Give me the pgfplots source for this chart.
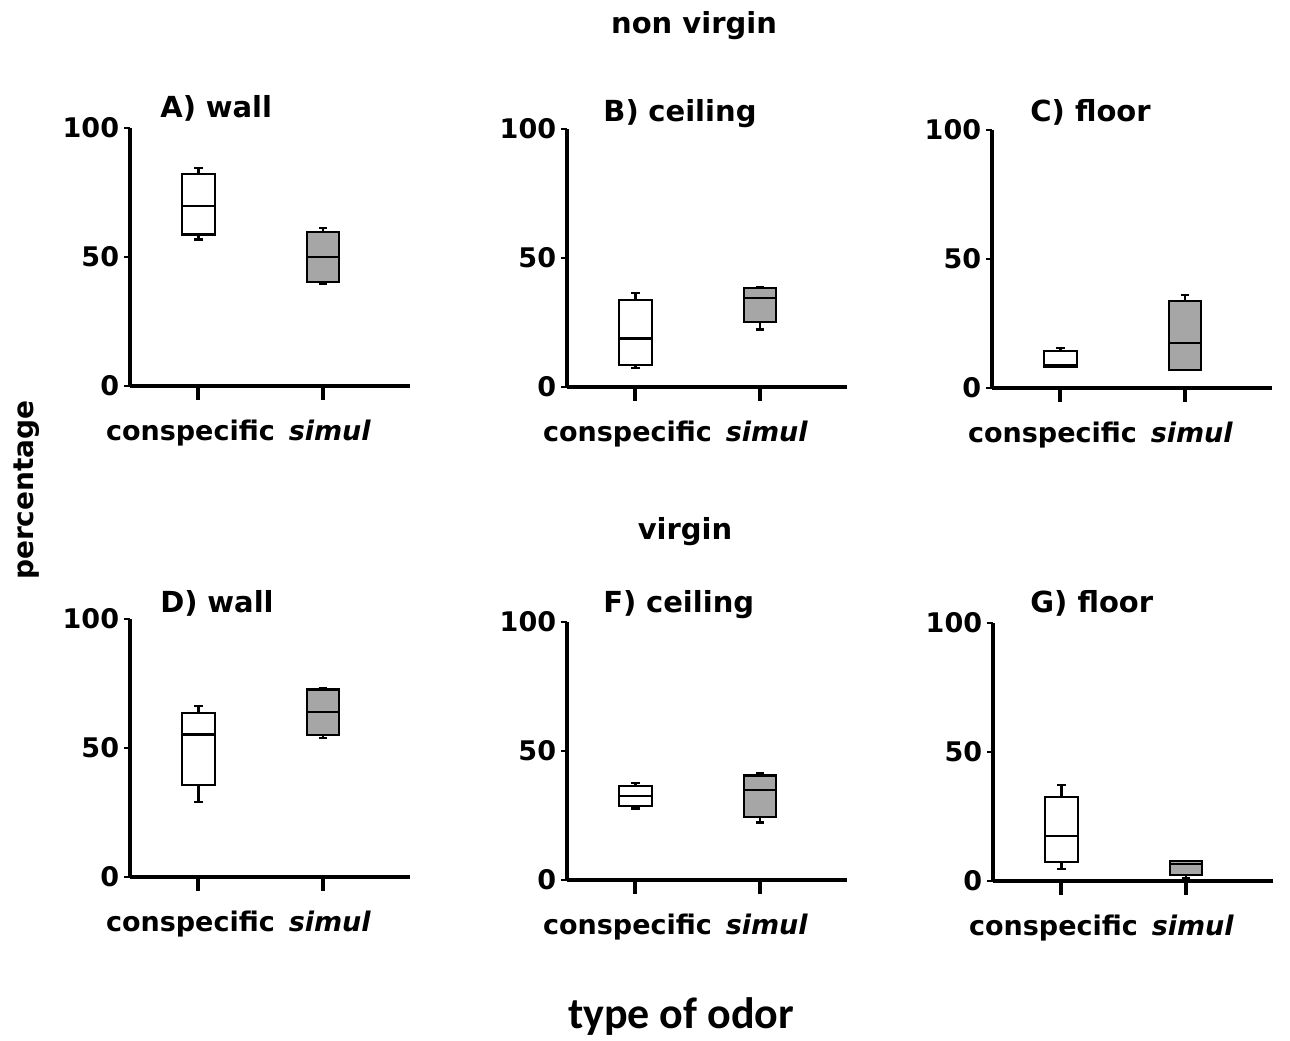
\documentclass[border=0pt]{standalone}
\usepackage{fontspec}
\setmainfont{DejaVu Sans}
\newfontfamily\calib{Carlito}
\usepackage{pgfplots}
\pgfplotsset{compat=1.18}
\definecolor{boxgray}{RGB}{166,166,166}
\pgfplotsset{
  panel/.style={
    width=140pt, height=129pt, scale only axis, anchor=south west,
    xmin=0.45, xmax=2.7, ymin=0, ymax=100,
    axis lines=left, axis line style={-, line width=1.6pt, black},
    xtick={1,2}, xticklabels={conspecific\hspace*{8pt},\hspace*{7pt}\textit{simul}},
    ytick={0,50,100}, yticklabels={0,50,100},
    tick align=outside,
    xtick style={/pgfplots/major tick length=7pt, line width=2pt, black},
    ytick style={/pgfplots/major tick length=3pt, line width=1pt, black},
    ticklabel style={font=\fontsize{13.5}{15}\selectfont\bfseries},
    yticklabel style={inner sep=1pt},
    xticklabel style={yshift=-9pt},
    clip=false,
  },
}
% #1 position, #2 fill, #3 lower whisker, #4 lower quartile, #5 median, #6 upper quartile, #7 upper whisker
\newcommand{\bx}[7]{%
  \pgfmathsetmacro{\xl}{#1-0.13}\pgfmathsetmacro{\xr}{#1+0.13}%
  \pgfmathsetmacro{\cl}{#1-0.035}\pgfmathsetmacro{\cr}{#1+0.035}%
  \addplot[draw=black, line width=1.1pt] coordinates {(#1,#3) (#1,#4)};
  \addplot[draw=black, line width=1.1pt] coordinates {(#1,#6) (#1,#7)};
  \addplot[draw=black, line width=1.1pt] coordinates {(\cl,#3) (\cr,#3)};
  \addplot[draw=black, line width=1.1pt] coordinates {(\cl,#7) (\cr,#7)};
  \addplot[draw=black, fill=#2, line width=1.1pt] coordinates {(\xl,#4) (\xr,#4) (\xr,#6) (\xl,#6)} -- cycle;
  \addplot[draw=black, line width=1.1pt] coordinates {(\xl,#5) (\xr,#5)};
}
\begin{document}
\begin{tikzpicture}
\path[use as bounding box] (0,0) rectangle (645pt,520pt);
\tikzset{ttl/.style={anchor=base west, font=\fontsize{14.5}{16}\selectfont\bfseries, inner sep=0pt}}
\node[anchor=base, font=\fontsize{14.5}{16}\selectfont\bfseries, inner sep=0pt] at (347pt,503pt) {non virgin};
\node[anchor=base, font=\fontsize{14.5}{16}\selectfont\bfseries, inner sep=0pt] at (342.5pt,250pt) {virgin};
\node[anchor=base, font=\calib\fontsize{22}{24}\selectfont\bfseries, inner sep=0pt] at (340.5pt,6pt) {type of odor};
\node[rotate=90, font=\fontsize{14}{16}\selectfont\bfseries, inner sep=0pt] at (13.5pt,275pt) {percentage};
% A) wall
\begin{axis}[panel, at={(65pt,327pt)}]
\bx{1}{white}{56.8}{58.7}{69.9}{82.2}{84.5}
\bx{2}{boxgray}{39.6}{40.3}{49.9}{59.7}{61.3}
\end{axis}
\node[ttl] at (80pt,461pt) {A)\,\,wall};
% B) ceiling
\begin{axis}[panel, at={(283.5pt,326.5pt)}]
\bx{1}{white}{7.5}{8.4}{18.8}{33.8}{36.4}
\bx{2}{boxgray}{22.3}{25.3}{34.4}{38.3}{38.7}
\end{axis}
\node[ttl] at (301.5pt,459pt) {B)\,\,ceiling};
% C) floor
\begin{axis}[panel, at={(496pt,326pt)}]
\bx{1}{white}{8.2}{8.2}{8.7}{14.3}{15.6}
\bx{2}{boxgray}{6.9}{6.9}{17.5}{33.8}{36.0}
\end{axis}
\node[ttl] at (515pt,459pt) {C) floor};
% D) wall
\begin{axis}[panel, at={(65pt,81.5pt)}]
\bx{1}{white}{29.2}{35.7}{55.2}{63.6}{66.2}
\bx{2}{boxgray}{53.9}{54.9}{63.9}{72.7}{73.4}
\end{axis}
\node[ttl] at (80pt,214pt) {D)\,\,wall};
% F) ceiling
\begin{axis}[panel, at={(283.5pt,80pt)}]
\bx{1}{white}{27.7}{28.6}{32.6}{36.5}{37.7}
\bx{2}{boxgray}{22.3}{24.5}{34.8}{40.5}{41.5}
\end{axis}
\node[ttl] at (301.5pt,214pt) {F)\,\,ceiling};
% G) floor
\begin{axis}[panel, at={(496.5pt,79.5pt)}]
\bx{1}{white}{4.5}{7.5}{17.4}{32.6}{37.2}
\bx{2}{boxgray}{1.0}{2.3}{6.5}{7.7}{7.7}
\end{axis}
\node[ttl] at (515pt,214pt) {G) floor};
\end{tikzpicture}
\end{document}
